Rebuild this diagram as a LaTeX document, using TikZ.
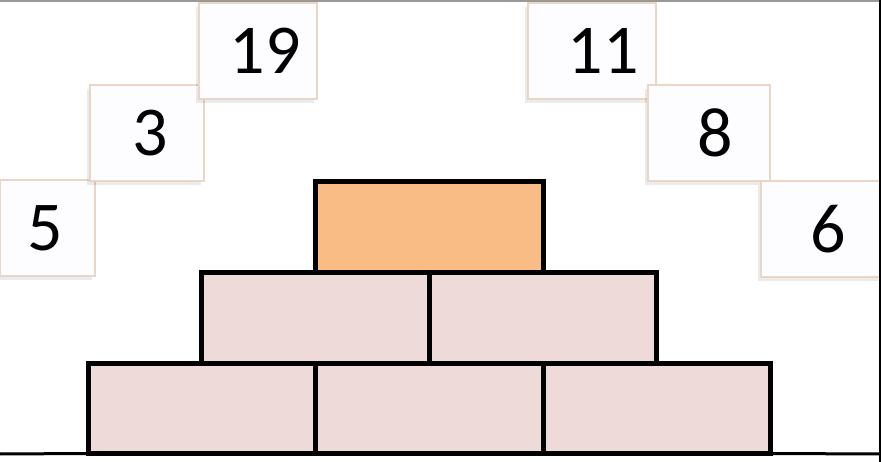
\documentclass[tikz,border=0pt]{standalone}
\usepackage{fontspec}
\setmainfont{Carlito}
\usetikzlibrary{positioning,shadows}
\definecolor{BrickPink}{HTML}{EFDADA}
\definecolor{BrickTop}{HTML}{F9BC85}
\definecolor{TagEdge}{HTML}{EAD6C4}
\definecolor{TagFill}{HTML}{FDFDFF}
\tikzset{
  brick/.style={draw=black, line width=5pt, fill=BrickPink, minimum width=227.5pt,
    minimum height=90.5pt, inner sep=0pt, outer sep=0pt},
  tag/.style={draw=TagEdge, line width=2pt, fill=TagFill, minimum height=96pt,
    inner sep=0pt, outer sep=0pt, text=black, font=\fontsize{70}{72}\selectfont,
    drop shadow={shadow xshift=-3pt, shadow yshift=-4pt, fill=black, opacity=0.08}},
}

\begin{document}
\begin{tikzpicture}[x=1pt, y=-1pt]
    \useasboundingbox (0,0) rectangle (881,462);
    \fill[white] (0,0) rectangle (881,462);
    % number tags
    \node[tag, minimum width=95pt] (five) at (47,228) {\hspace{-4pt}5};
    \node[tag, minimum width=114pt] (three) at (147,133) {\hspace{6pt}3};
    \node[tag, minimum width=118pt] (nineteen) at (258,51) {\hspace{14pt}19};
    \node[tag, minimum width=128pt] (eleven) at (592,51) {\hspace{22pt}11};
    \node[tag, minimum width=122pt] (eight) at (709,133) {\hspace{12pt}8};
    \node[tag, minimum width=120pt] (six) at (821,229) {\hspace{14pt}6};
    % pyramid
    \node[brick, anchor=north west] (b1) at (88,363) {};
    \node[brick, right=0pt of b1] (b2) {};
    \node[brick, right=0pt of b2] (b3) {};
    \node[brick, anchor=south west] (m1) at (b1.north) {};
    \node[brick, right=0pt of m1] (m2) {};
    \node[brick, anchor=south west, fill=BrickTop] (top) at (m1.north) {};
    % ground and frame
    \draw[line width=3pt] (0,454) -- (b1.south west) (b3.south east) -- (881,454);
    \draw[gray!80, line width=1.5pt] (0,1) -- (880,1);
    \draw[black, line width=1.5pt] (880,0) -- (880,462);
\end{tikzpicture}
\end{document}
